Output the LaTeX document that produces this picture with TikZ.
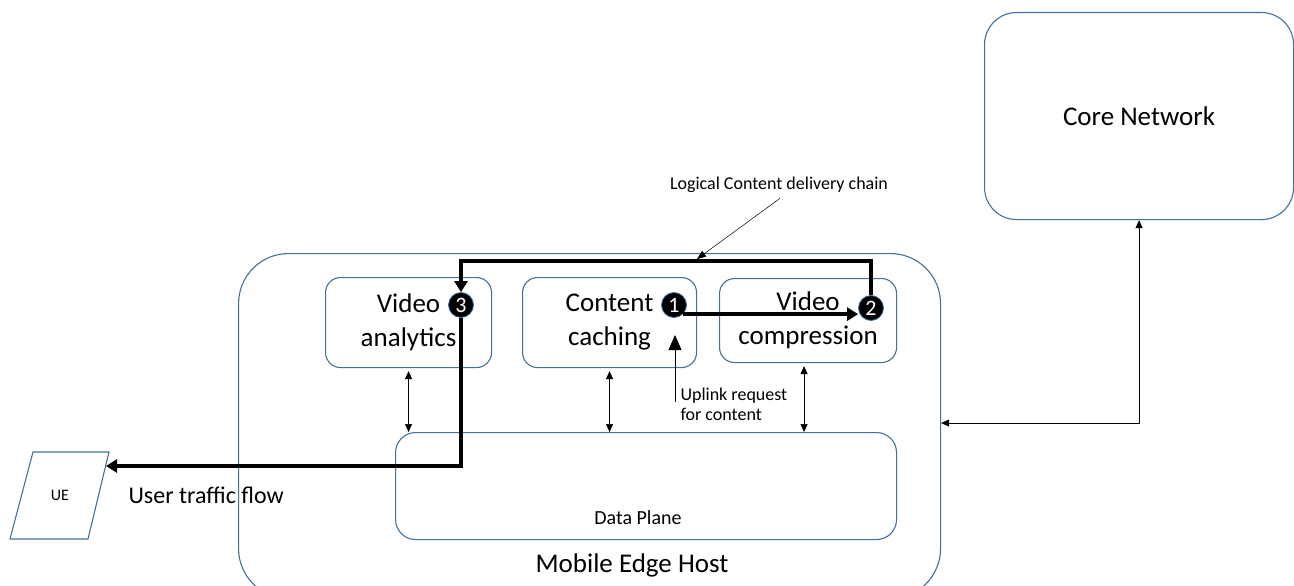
\documentclass[tikz,border=0pt]{standalone}
\usepackage{fontspec}
\setmainfont{Carlito}
\usetikzlibrary{positioning,arrows.meta}
\definecolor{boxblue}{RGB}{65,113,156}
\tikzset{box/.style={draw=boxblue, line width=1.1pt, rounded corners=15pt, align=center, anchor=north west, inner sep=0pt},
  num/.style={circle, fill=black, draw=boxblue, line width=0.8pt, text=white, inner sep=0pt, minimum size=25pt, font=\fontsize{22}{22}\selectfont},
  flow/.style={draw, line width=4pt, -{Triangle[width=13pt,length=11pt]}},
  link/.style={draw, line width=0.7pt, {Triangle[width=7pt,length=8pt]}-{Triangle[width=7pt,length=8pt]}},
  big/.style={font=\fontsize{27}{34}\selectfont, align=center},
  small/.style={font=\fontsize{18}{20}\selectfont, align=left}}

\begin{document}
\begin{tikzpicture}[x=1pt,y=-1pt]
    \useasboundingbox (0,0) rectangle (1294,586);
    \clip (0,0) rectangle (1294,586);
    % hosts
    \node[box, big, rounded corners=32pt, minimum width=309pt, minimum height=207pt] (core) at (984,12) {Core Network};
    \node[box, rounded corners=50pt, minimum width=702pt, minimum height=345pt] (meh) at (238,253) {};
    \node[big] (mehlabel) at (632,565) {Mobile Edge Host};
    % applications
    \node[box, big, minimum width=166pt, minimum height=90pt] (va) at (325,277) {Video\\analytics};
    \node[box, big, minimum width=174pt, minimum height=90pt] (cc) at (522,277) {Content\\caching};
    \node[box, big, minimum width=177pt, minimum height=84pt] (vc) at (719,278) {Video\\compression};
    \node[box, rounded corners=20pt, minimum width=501pt, minimum height=107pt] (dp) at (395,432) {};
    \node[small, font=\fontsize{20}{20}\selectfont] (dplabel) at (638,518) {Data Plane};
    % UE
    \draw[boxblue, line width=1.1pt] (33,452) -- (109,452) -- (88,539) -- (10,539) -- cycle;
    \node[small, font=\fontsize{16}{20}\selectfont] (ue) at (60,495) {UE};
    \coordinate (uein) at (106,466);
    \node[big, anchor=west, font=\fontsize{24}{30}\selectfont] (traffic) at (125,495) {User traffic flow};
    % steps of the chain
    \node[num] (n3) at (461,305) {3};
    \node[num] (n1) at (674,305) {1};
    \node[num] (n2) at (871,308) {2};
    \draw[flow] (n2.north) -- ++(0,-34) -| (n3.north);
    \draw[flow] (n3.south) |- (uein);
    \draw[flow] (n1.south east) -- (n1.south east -| n2.west);
    % uplink request
    \node[small, anchor=north west] (uplink) at (677,384) {Uplink request\\for content};
    \coordinate (upfoot) at (675,402);
    \coordinate (uptip) at (675,335);
    \draw[line width=0.8pt, -{Triangle[width=13pt,length=15pt]}] (upfoot) -- (uptip);
    % links to the data plane
    \draw[link, shorten <=3pt] (va.south) -- (va.south |- dp.north);
    \draw[link, shorten <=3pt] (cc.south) -- (cc.south |- dp.north);
    \draw[link, shorten <=3pt] ([xshift=-4pt]vc.south) -- ([xshift=-4pt]vc.south |- dp.north);
    \draw[link] (core.south) |- ([yshift=3pt]meh.east);
    % chain label
    \node[small] (chain) at (779,185) {Logical Content delivery chain};
    \coordinate (chaintip) at (697,259);
    \draw[line width=0.5pt, -{Triangle[width=7pt,length=9pt]}] (chain.south) ++(1,2) -- (chaintip);
\end{tikzpicture}
\end{document}
